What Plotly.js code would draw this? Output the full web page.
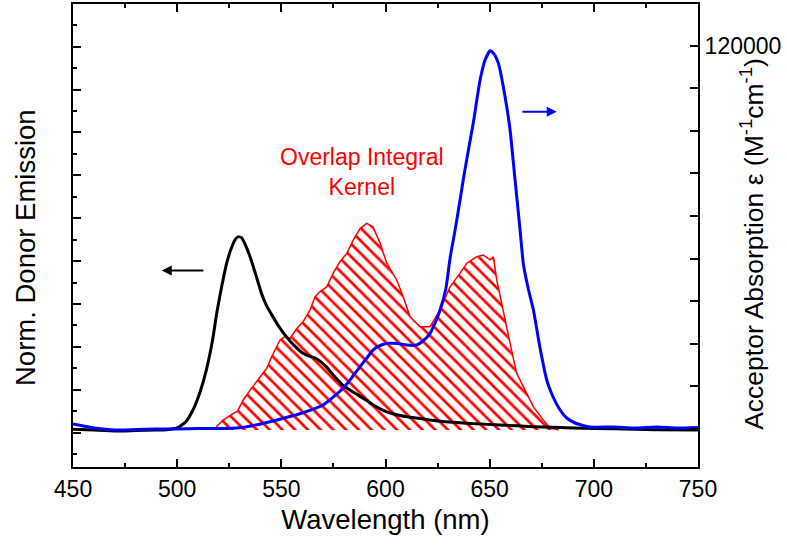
<!DOCTYPE html>
<html>
<head>
<meta charset="utf-8">
<script src="https://cdn.plot.ly/plotly-3.0.1.min.js"></script>
<style>html,body{margin:0;padding:0;background:#fff;}#chart{width:787px;height:545px;}</style>
</head>
<body>
<div id="chart"></div>
<script>
// Donor emission (normalized, left axis)
var wlEm = [450,460,470,480,490,495,500,504,507.6,511,514,517,519,521.5,523.8,526,528,529.4,531,533,535,537.5,540.6,543,546,549,552.4,556,560.4,563,566.7,569,571.5,575,579.5,585,590.7,595,600.3,607,614.7,625,638.7,655,670.6,690,710,730,750];
var em = [0.008,0.006,0.004,0.005,0.006,0.007,0.011,0.025,0.053,0.095,0.146,0.216,0.279,0.344,0.396,0.43,0.451,0.457,0.454,0.435,0.41,0.372,0.323,0.295,0.27,0.246,0.224,0.204,0.185,0.179,0.173,0.165,0.154,0.134,0.111,0.093,0.076,0.062,0.049,0.040,0.034,0.027,0.022,0.018,0.014,0.011,0.009,0.007,0.006];

// Acceptor absorption epsilon (M^-1 cm^-1, right axis)
var wlAb = [450,455,460,470,480,490,500,510,520,530,540,551,560,570,579.7,584,587.8,591,594,598,602,606,610,615,618,621.4,624,626.2,629,631,633.4,635.5,637.3,639.7,642.1,645.4,647.8,650.2,652,654.2,657.4,659.8,662.2,664.6,666.2,668.5,671,674,677.4,680,683.8,687,691,698,710,720,730,740,750];
var ab = [1565,940,313,-313,-156,0,0,156,156,407,1565,3350,5008,7512,12740,16276,19500,22223,24727,26292,26824,26762,26292,26292,27544,29954,33491,37247,44000,53500,62290,70500,77940,87000,95680,109240,115500,118400,117500,114460,104010,93590,77940,62290,51500,44000,37247,26000,15337,10642,5947,3443,1878,626,626,313,626,313,470];

// Overlap integral kernel (arbitrary units)
var wlOv = [518,519,522,525,527,529,531.7,535,539.8,543,545.4,549.4,551.8,554.2,557.4,560.5,563.8,566.2,568.6,571.8,574.9,578.2,581.4,584.5,587.8,591,594,597.4,600.6,605.4,608.5,611.8,616.6,621.4,626.2,631,635.8,639,643.8,647,650.2,651.8,653.4,656.6,659.8,663,667.8,671,675.8,679,683];
var ov = [0,0.008,0.023,0.033,0.039,0.044,0.070,0.093,0.124,0.144,0.171,0.210,0.218,0.214,0.237,0.253,0.280,0.311,0.323,0.334,0.366,0.393,0.412,0.443,0.470,0.482,0.474,0.436,0.389,0.350,0.311,0.264,0.241,0.241,0.280,0.334,0.366,0.389,0.404,0.408,0.397,0.404,0.350,0.272,0.202,0.132,0.086,0.054,0.023,0.005,0];

var rightTickVals = [0,13333.33,26666.67,40000,53333.33,66666.67,80000,93333.33,106666.67,120000];
var rightTickText = ['','','','','','','','','','120000'];

var FONT = 'Liberation Sans, Arial, Helvetica, sans-serif';

var traces = [
  {x: wlOv, y: ov, xaxis: 'x', yaxis: 'y', type: 'scatter', mode: 'lines',
   line: {color: '#ff0000', width: 1.5}, fill: 'tozeroy', fillcolor: 'rgba(255,255,255,0)',
   fillpattern: {shape: '\\', fgcolor: '#ff0000', bgcolor: 'rgba(255,255,255,0)', size: 9, solidity: 0.3},
   hoverinfo: 'skip', showlegend: false},
  {x: wlEm, y: em, xaxis: 'x', yaxis: 'y2', type: 'scatter', mode: 'lines',
   line: {color: '#000000', width: 3, shape: 'spline', smoothing: 0.5}, showlegend: false},
  {x: wlAb, y: ab, xaxis: 'x', yaxis: 'y3', type: 'scatter', mode: 'lines',
   line: {color: '#0000ff', width: 3, shape: 'spline', smoothing: 0.5}, showlegend: false}
];

var layout = {
  width: 787, height: 545,
  margin: {l: 73, r: 89, t: 4, b: 78, pad: 0},
  paper_bgcolor: '#ffffff', plot_bgcolor: '#ffffff',
  font: {family: FONT, color: '#000000'},
  showlegend: false,
  xaxis: {
    range: [450, 750], anchor: 'y', showgrid: false, zeroline: false,
    showline: true, linecolor: '#000', linewidth: 2, mirror: 'ticks',
    ticks: 'inside', ticklen: 8, tickwidth: 2, tickcolor: '#000',
    tick0: 450, dtick: 50,
    minor: {dtick: 25, ticks: 'inside', ticklen: 4, tickwidth: 2, tickcolor: '#000', showgrid: false},
    tickfont: {size: 23, family: FONT, color: '#000'},
    title: {text: 'Wavelength (nm)', font: {size: 27.5, family: FONT, color: '#000'}, standoff: 9}
  },
  yaxis: {range: [-0.0863, 0.9937], visible: false, fixedrange: true},
  yaxis2: {
    overlaying: 'y', side: 'left', anchor: 'x', range: [-0.08, 0.9993],
    showgrid: false, zeroline: false, showline: true, linecolor: '#000', linewidth: 2,
    ticks: 'inside', ticklen: 8, tickwidth: 2, tickcolor: '#000',
    tick0: 0, dtick: 0.1, showticklabels: false,
    minor: {tick0: 0, dtick: 0.05, ticks: 'inside', ticklen: 4, tickwidth: 2, tickcolor: '#000', showgrid: false}
  },
  yaxis3: {
    overlaying: 'y', side: 'right', anchor: 'x', range: [-11897, 133055],
    showgrid: false, zeroline: false, showline: true, linecolor: '#000', linewidth: 2,
    ticks: 'inside', ticklen: 8, tickwidth: 2, tickcolor: '#000',
    tickmode: 'array', tickvals: rightTickVals, ticktext: rightTickText,
    tickfont: {size: 23, family: FONT, color: '#000'}
  },
  annotations: [
    {text: 'Norm. Donor Emission', xref: 'paper', yref: 'paper', x: -0.0768, y: 0.473,
     textangle: -90, showarrow: false, xanchor: 'center', yanchor: 'middle',
     font: {size: 27.5, family: FONT, color: '#000'}},
    {text: 'Acceptor Absorption \u03b5 (M<sup>-1</sup>cm<sup>-1</sup>)', xref: 'paper', yref: 'paper', x: 1.0864, y: 0.482,
     textangle: -90, showarrow: false, xanchor: 'center', yanchor: 'middle',
     font: {size: 26.5, family: FONT, color: '#000'}},
    {text: 'Overlap Integral<br>Kernel', xref: 'x', yref: 'paper', x: 588.7, y: 0.638,
     showarrow: false, xanchor: 'center', yanchor: 'middle',
     font: {size: 23, family: FONT, color: '#ff0000'}},
    {text: '', xref: 'x', yref: 'y2', x: 492.6, y: 0.378, axref: 'x', ayref: 'y2', ax: 513.3, ay: 0.378,
     showarrow: true, arrowhead: 2, arrowsize: 1, arrowwidth: 2, arrowcolor: '#000'},
    {text: '', xref: 'x', yref: 'y3', x: 682.2, y: 99315, axref: 'x', ayref: 'y3', ax: 665, ay: 99315,
     showarrow: true, arrowhead: 2, arrowsize: 1, arrowwidth: 2, arrowcolor: '#0000ff'}
  ]
};

Plotly.newPlot('chart', traces, layout, {displayModeBar: false, staticPlot: true});
</script>
</body>
</html>
